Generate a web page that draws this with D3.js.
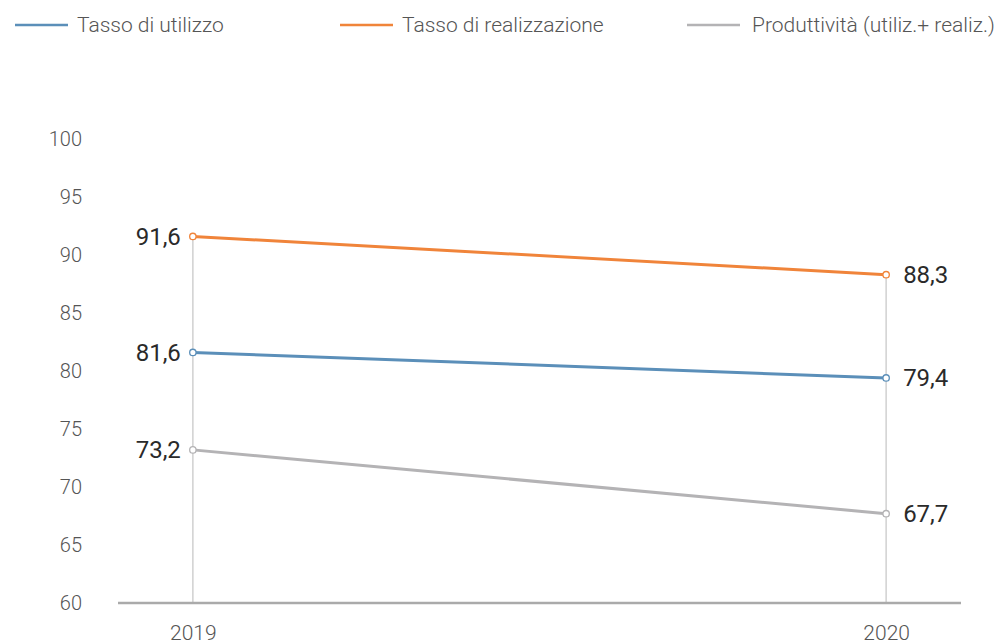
<!DOCTYPE html>
<html>
<head>
<meta charset="utf-8">
<script src="https://cdn.jsdelivr.net/npm/d3@7"></script>
<style>
  body { margin: 0; background: #fff; }
  svg { font-family: Roboto, "Noto Sans", sans-serif; }
</style>
</head>
<body>
<svg id="chart" width="1001" height="643"></svg>
<script>
const years = ["2019", "2020"];
const seriesNames = ["Tasso di utilizzo", "Tasso di realizzazione", "Produttività (utiliz.+ realiz.)"];
const utilizzo = [81.6, 79.4];
const realizzazione = [91.6, 88.3];
const produttivita = [73.2, 67.7];
const yTicks = [60, 65, 70, 75, 80, 85, 90, 95, 100];
const colors = ["#5b8fb9", "#f0843a", "#b4b3b5"];

const series = [utilizzo, realizzazione, produttivita].map(function(vals, i) {
  return { name: seriesNames[i], color: colors[i], values: vals.map(function(v, j) { return { year: years[j], value: v }; }) };
});

const svg = d3.select("#chart");
const plot = { left: 118, right: 961, top: 139, bottom: 603 };

const x = d3.scalePoint().domain(years).range([plot.left, plot.right]).padding(0.108);
const y = d3.scaleLinear().domain([60, 100]).range([plot.bottom, plot.top]);

// y axis labels only
const yAxis = svg.append("g")
  .attr("transform", "translate(82,0)")
  .call(d3.axisLeft(y).tickValues(yTicks).tickSize(0).tickPadding(0).tickFormat(d3.format("d")));
yAxis.select(".domain").remove();
yAxis.selectAll("text")
  .attr("font-family", "Roboto").attr("font-weight", 300)
  .attr("font-size", 20).attr("fill", "#555").attr("text-anchor", "end");

// drop lines from top value to baseline
years.forEach(function(yr, j) {
  const maxV = d3.max(series, function(s) { return s.values[j].value; });
  svg.append("line")
    .attr("x1", x(yr)).attr("x2", x(yr))
    .attr("y1", y(maxV)).attr("y2", plot.bottom)
    .attr("stroke", "#d0d0d0").attr("stroke-width", 1.5);
});

// baseline
svg.append("line")
  .attr("x1", plot.left).attr("x2", plot.right)
  .attr("y1", plot.bottom).attr("y2", plot.bottom)
  .attr("stroke", "#aaa").attr("stroke-width", 2.5);

// x axis labels
const xAxis = svg.append("g")
  .attr("transform", "translate(0," + plot.bottom + ")")
  .call(d3.axisBottom(x).tickSize(0).tickPadding(22));
xAxis.select(".domain").remove();
xAxis.selectAll("text")
  .attr("font-family", "Roboto").attr("font-weight", 300)
  .attr("font-size", 21).attr("fill", "#555");

const line = d3.line()
  .x(function(d) { return x(d.year); })
  .y(function(d) { return y(d.value); });

const fmt = function(v) { return d3.format(".1f")(v).replace(".", ","); };

series.forEach(function(s) {
  svg.append("path")
    .datum(s.values)
    .attr("d", line)
    .attr("fill", "none")
    .attr("stroke", s.color)
    .attr("stroke-width", 3);

  svg.selectAll(null)
    .data(s.values)
    .enter().append("circle")
    .attr("cx", function(d) { return x(d.year); })
    .attr("cy", function(d) { return y(d.value); })
    .attr("r", 3.2)
    .attr("fill", "#fff")
    .attr("stroke", s.color)
    .attr("stroke-width", 1.3);

  svg.selectAll(null)
    .data(s.values)
    .enter().append("text")
    .text(function(d) { return fmt(d.value); })
    .attr("x", function(d, j) { return j === 0 ? x(d.year) - 12 : x(d.year) + 17; })
    .attr("y", function(d) { return y(d.value); })
    .attr("dy", "0.35em")
    .attr("text-anchor", function(d, j) { return j === 0 ? "end" : "start"; })
    .attr("font-size", 24)
    .attr("fill", "#2a2a2a");
});

// legend
const legendX = [15, 340, 687];
const legend = svg.append("g");
series.forEach(function(s, i) {
  const g = legend.append("g").attr("transform", "translate(" + legendX[i] + ",25)");
  g.append("line").attr("x1", 0).attr("x2", 53).attr("y1", 0).attr("y2", 0)
    .attr("stroke", s.color).attr("stroke-width", 2.5);
  g.append("text").text(s.name)
    .attr("x", i === 2 ? 65 : 62).attr("y", 0).attr("dy", "0.35em")
    .attr("font-weight", 300).attr("font-size", 21).attr("fill", "#555");
});
</script>
</body>
</html>
